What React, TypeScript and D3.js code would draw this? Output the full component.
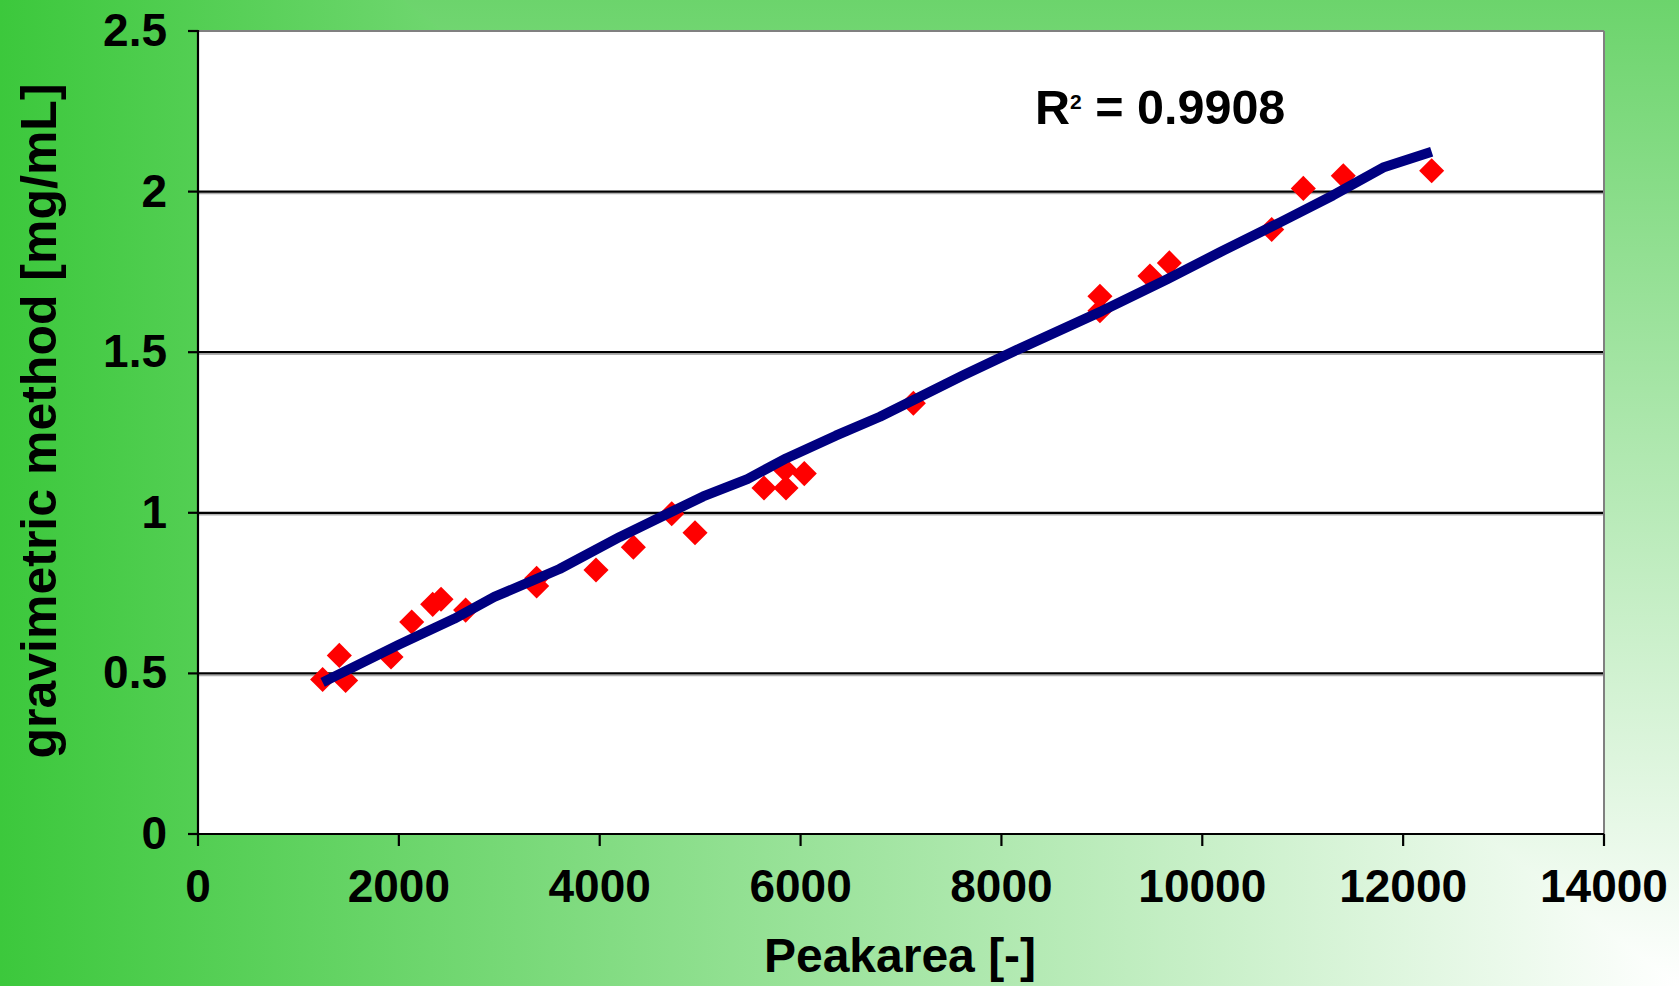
import React from "react";
import * as d3 from "d3";

const W = 1679;
const H = 986;

// measured data points (Peakarea, gravimetric mg/mL)
const pointX = [1241, 1407, 1470, 1922, 2128, 2337, 2420, 2665, 3372, 3372, 3963, 4335, 4717, 4949, 5636, 5845, 5855, 6037, 7123, 8981, 8981, 9479, 9672, 10691, 11006, 11404, 12284];
const pointY = [0.481, 0.556, 0.478, 0.551, 0.66, 0.715, 0.731, 0.697, 0.796, 0.772, 0.822, 0.893, 0.997, 0.938, 1.077, 1.134, 1.077, 1.122, 1.341, 1.674, 1.629, 1.737, 1.778, 1.882, 2.01, 2.049, 2.065];

// fitted line vertices
const lineX = [1241, 1990, 2550, 2950, 3600, 4200, 5030, 5470, 5860, 6350, 6790, 7620, 8160, 9000, 9650, 10180, 10780, 11300, 11800, 12284];
const lineY = [0.472, 0.588, 0.67, 0.738, 0.825, 0.925, 1.051, 1.105, 1.17, 1.24, 1.299, 1.428, 1.508, 1.628, 1.727, 1.812, 1.905, 1.988, 2.075, 2.124];

const xTicks = [0, 2000, 4000, 6000, 8000, 10000, 12000, 14000];
const yTicks = [0, 0.5, 1, 1.5, 2, 2.5];
const yTickLabels = ["0", "0.5", "1", "1.5", "2", "2.5"];

const xTitle = "Peakarea [-]";
const yTitle = "gravimetric method [mg/mL]";
const r2Value = "0.9908";

const FONT = "'Liberation Sans', Arial, Helvetica, sans-serif";

export default function App() {
  const left = 198, right = 1604, top = 31, bottom = 834;
  const x = d3.scaleLinear().domain([0, 14000]).range([left, right]);
  const y = d3.scaleLinear().domain([0, 2.5]).range([bottom, top]);

  const lineGen = d3
    .line<number>()
    .x((_, i) => x(lineX[i]))
    .y((d) => y(d));
  const linePath = lineGen(lineY) || "";

  const diamond = d3.symbol().type(d3.symbolSquare).size(315)() || "";

  const bx = 0.24 * W; // boundary of the corner gradient on the top edge

  return (
    <div style={{ position: "fixed", left: 0, top: 0, width: W, height: H }}>
      <svg width={W} height={H} style={{ display: "block" }}>
        <defs>
          <linearGradient id="gH" gradientUnits="userSpaceOnUse" x1={0} y1={0} x2={W} y2={0}>
            <stop offset="0" stopColor="#3cc83c" />
            <stop offset="1" stopColor="#ffffff" />
          </linearGradient>
          <linearGradient id="gV" gradientUnits="userSpaceOnUse" x1={0} y1={0} x2={0} y2={H}>
            <stop offset="0" stopColor="#6cd46c" />
            <stop offset="1" stopColor="#ffffff" />
          </linearGradient>
        </defs>
        <rect x={0} y={0} width={W} height={H} fill="url(#gH)" />
        <polygon points={`${bx},0 ${W},0 ${W},${H}`} fill="url(#gV)" />

        {/* plot area */}
        <rect x={left} y={top} width={right - left} height={bottom - top} fill="#ffffff" />

        {/* gridlines */}
        {yTicks.slice(1, -1).map((t) => (
          <g key={"g" + t}>
            <line x1={left} x2={right} y1={y(t) + 2} y2={y(t) + 2} stroke="#b0b0b0" strokeWidth={1.5} />
            <line x1={left} x2={right} y1={y(t)} y2={y(t)} stroke="#000000" strokeWidth={2.2} />
          </g>
        ))}

        {/* top and right border */}
        <line x1={left} x2={right} y1={top} y2={top} stroke="#808080" strokeWidth={2} />
        <line x1={right} x2={right} y1={top} y2={bottom} stroke="#808080" strokeWidth={2} />

        {/* axes */}
        <line x1={left} x2={left} y1={top - 1} y2={bottom} stroke="#000" strokeWidth={2.2} />
        <line x1={left - 10} x2={right} y1={bottom} y2={bottom} stroke="#000" strokeWidth={2.2} />
        {yTicks.map((t) => (
          <line key={"yt" + t} x1={left - 10} x2={left} y1={y(t)} y2={y(t)} stroke="#000" strokeWidth={2.2} />
        ))}
        {xTicks.map((t) => (
          <line key={"xt" + t} x1={x(t)} x2={x(t)} y1={bottom} y2={bottom + 12} stroke="#000" strokeWidth={2.2} />
        ))}

        {/* tick labels */}
        {yTicks.map((t, i) => (
          <text key={"yl" + t} x={167} y={y(t) + 15} textAnchor="end" fontFamily={FONT} fontWeight="bold" fontSize={46} fill="#000">
            {yTickLabels[i]}
          </text>
        ))}
        {xTicks.map((t) => (
          <text key={"xl" + t} x={x(t)} y={902} textAnchor="middle" fontFamily={FONT} fontWeight="bold" fontSize={46} fill="#000">
            {String(t)}
          </text>
        ))}

        {/* axis titles */}
        <text x={900} y={972} textAnchor="middle" fontFamily={FONT} fontWeight="bold" fontSize={48} fill="#000">
          {xTitle}
        </text>
        <text
          transform={`translate(56, 421) rotate(-90)`}
          textAnchor="middle"
          fontFamily={FONT}
          fontWeight="bold"
          fontSize={50}
          fill="#000"
        >
          {yTitle}
        </text>

        {/* data points */}
        {pointX.map((px, i) => (
          <path
            key={"p" + i}
            d={diamond}
            transform={`translate(${x(px)}, ${y(pointY[i])}) rotate(45)`}
            fill="#ff0000"
          />
        ))}

        {/* fit line */}
        <path d={linePath} fill="none" stroke="#000080" strokeWidth={10} strokeLinejoin="round" />

        {/* R² label */}
        <text x={1035} y={124} fontFamily={FONT} fontWeight="bold" fontSize={48.5} fill="#000">
          R
          <tspan style={{ fontSize: "21px" }} dy={-15}>2</tspan>
          <tspan dy={15}>{" = " + r2Value}</tspan>
        </text>
      </svg>
    </div>
  );
}
